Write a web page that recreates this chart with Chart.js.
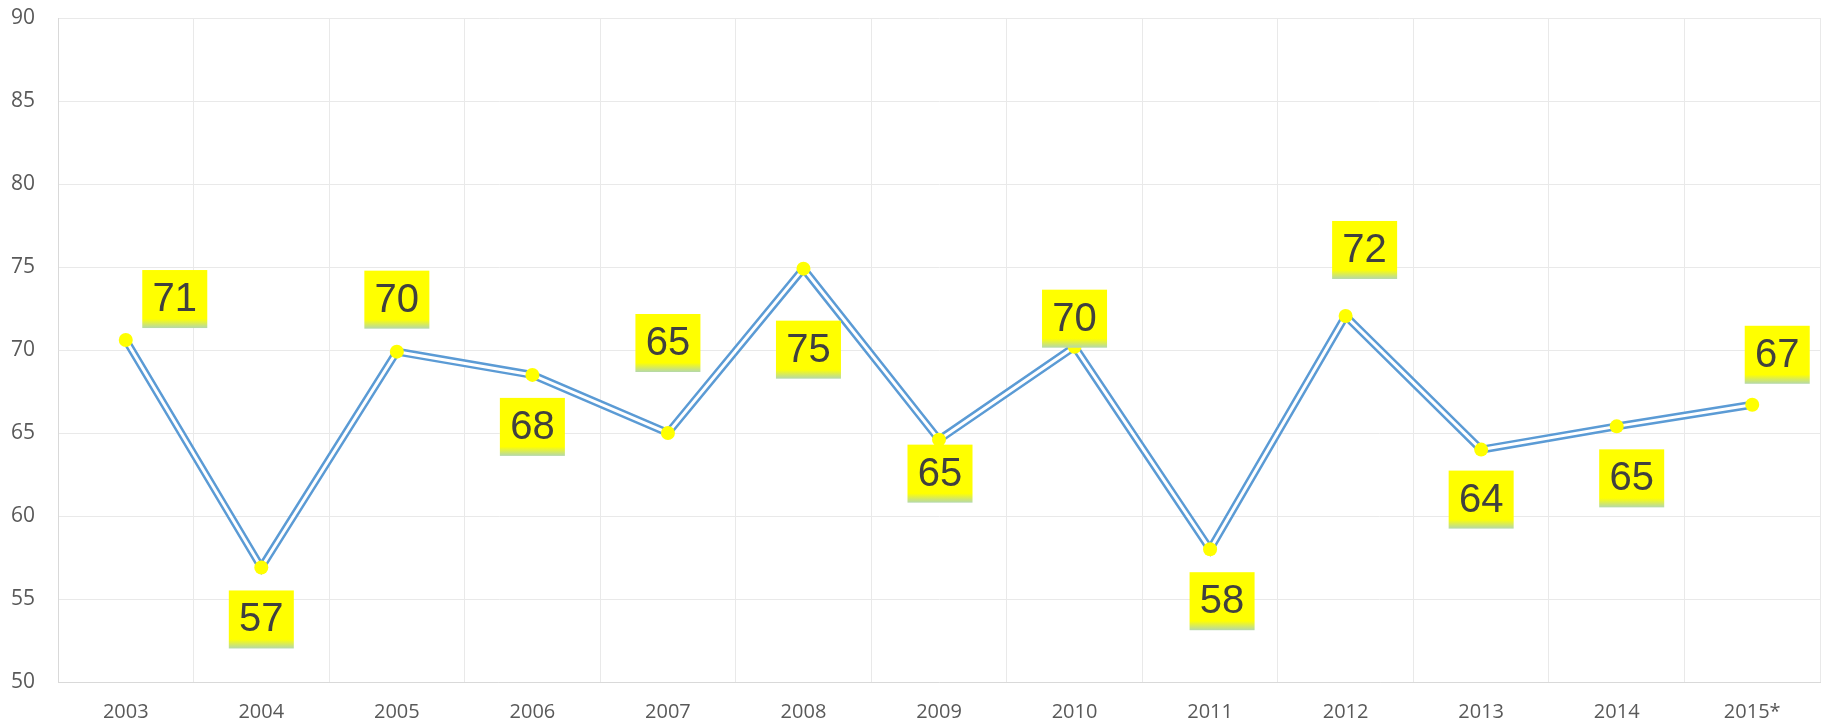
<!DOCTYPE html>
<html>
<head>
<meta charset="utf-8">
<script src="https://cdn.jsdelivr.net/npm/chart.js@4.4.1/dist/chart.umd.min.js"></script>
<style>
  html, body { margin: 0; padding: 0; background: #ffffff; overflow: hidden; }
  canvas { display: block; }
</style>
</head>
<body>
<canvas id="chart" width="1821" height="725"></canvas>
<script>
// Chart data
const years = ['2003', '2004', '2005', '2006', '2007', '2008', '2009', '2010', '2011', '2012', '2013', '2014', '2015*'];
const values = [70.6, 56.9, 69.9, 68.5, 65.0, 74.9, 64.6, 70.2, 58.0, 72.05, 64.0, 65.4, 66.7];
const labelTexts = ['71', '57', '70', '68', '65', '75', '65', '70', '58', '72', '64', '65', '67'];
const yTicks = [50, 55, 60, 65, 70, 75, 80, 85, 90];

// Excel-style label placement (pixel offset of each box from its point)
const labelOffsets = [
    [49, -41], [0, 52], [0, -52], [0, 52], [0, -90], [5, 81], [1, 34],
    [0, -28], [12, 52], [19, -66], [0, 50], [15, 52], [25, -50]
];

// Draws the yellow value boxes
const boxLabels = {
    id: 'boxLabels',
    afterDatasetsDraw: function(chart) {
        const ctx = chart.ctx;
        const meta = chart.getDatasetMeta(0);
        const w = 65, h = 58;
        ctx.save();
        meta.data.forEach((pt, i) => {
            const cx = pt.x + labelOffsets[i][0];
            const cy = pt.y + labelOffsets[i][1];
            const x0 = cx - w / 2, y0 = cy - h / 2;
            const grad = ctx.createLinearGradient(0, y0, 0, y0 + h);
            grad.addColorStop(0, '#ffff00');
            grad.addColorStop(0.84, '#ffff00');
            grad.addColorStop(1, '#b4d8ac');
            ctx.fillStyle = grad;
            ctx.fillRect(x0, y0, w, h);
            ctx.fillStyle = '#404040';
            ctx.font = '40px "Liberation Sans", Arial, sans-serif';
            ctx.textAlign = 'center';
            ctx.textBaseline = 'middle';
            ctx.fillText(labelTexts[i], cx, cy + 1);
        });
        ctx.restore();
    }
};

new Chart(document.getElementById('chart'), {
    type: 'line',
    data: {
        labels: years,
        datasets: [
            {
                // white centre stripe + points (drawn on top)
                data: values,
                borderColor: '#ffffff',
                borderWidth: 3,
                pointRadius: 7,
                pointBackgroundColor: '#ffff00',
                pointBorderWidth: 0,
                tension: 0
            },
            {
                // blue outer stroke
                data: values,
                borderColor: '#5b9bd5',
                borderWidth: 8,
                pointRadius: 0,
                tension: 0
            }
        ]
    },
    options: {
        responsive: false,
        animation: false,
        layout: { autoPadding: false, padding: { left: 0, right: 1, top: 18, bottom: 0 } },
        plugins: {
            legend: { display: false },
            tooltip: { enabled: false }
        },
        scales: {
            x: {
                offset: true,
                afterFit: function(axis) {
                    axis.height = 43;
                    axis.paddingLeft = 0;
                    axis.paddingRight = 0;
                },
                grid: { offset: true, color: '#e9e9e9', lineWidth: 1, drawTicks: false },
                border: { color: '#d9d9d9' },
                ticks: {
                    padding: 18,
                    color: '#595959',
                    font: { family: '"Open Sans", sans-serif', size: 20 }
                }
            },
            y: {
                min: 50,
                max: 90,
                afterBuildTicks: function(axis) {
                    axis.ticks = yTicks.map(v => ({ value: v }));
                },
                afterFit: function(axis) {
                    axis.width = 58;
                    axis.paddingTop = 0;
                    axis.paddingBottom = 0;
                },
                grid: { color: '#e9e9e9', lineWidth: 1, drawTicks: false },
                border: { color: '#d9d9d9' },
                ticks: {
                    padding: 23,
                    color: '#595959',
                    font: { family: '"Open Sans", sans-serif', size: 21 }
                }
            }
        }
    },
    plugins: [boxLabels]
});
</script>
</body>
</html>
